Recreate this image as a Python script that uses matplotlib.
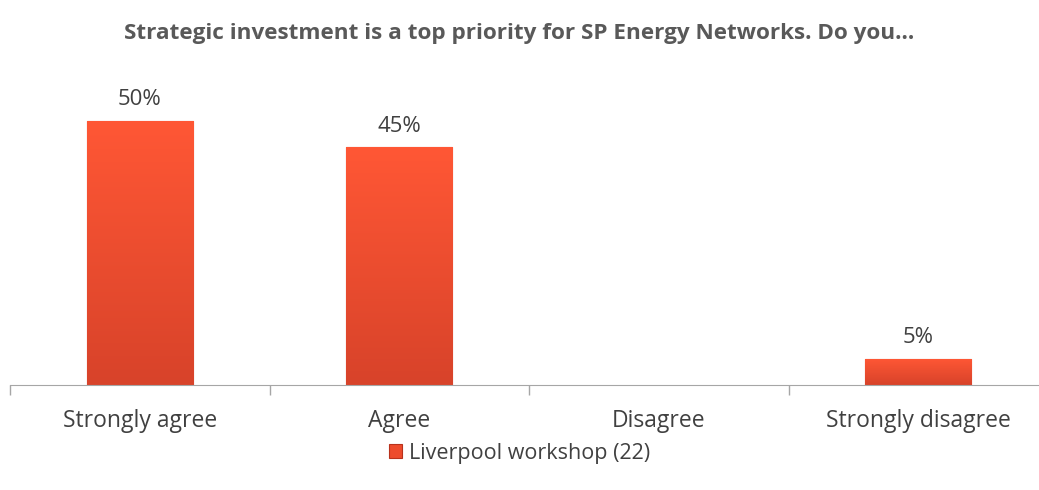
import matplotlib
matplotlib.use('Agg')
import matplotlib.pyplot as plt
import numpy as np

# dados da pesquisa
categorias = ['Strongly agree', 'Agree', 'Disagree', 'Strongly disagree']
valores = [0.50, 0.45, 0.0, 0.05]
serie = 'Liverpool workshop (22)'
titulo = 'Strategic investment is a top priority for SP Energy Networks. Do you...'

plt.rcParams['font.family'] = ['Open Sans', 'DejaVu Sans']

fig = plt.figure(figsize=(10.39, 4.9), dpi=100)
# eixo: começa em x=10px, cada categoria ~259.5px
ax = fig.add_axes([10 / 1039, 105 / 490, 1038 / 1039, 316.8 / 490])

x = np.arange(len(categorias))
cor = '#ED4B2C'
larguras_borda = [0.8 if v > 0 else 0 for v in valores]
barras = ax.bar(x, valores, width=0.41, color=cor, edgecolor='#B8321C', linewidth=larguras_borda, label=serie)

# leve degradê nas barras
cmap = matplotlib.colors.LinearSegmentedColormap.from_list('g', ['#D8432A', '#FF5735'])
for b, v in zip(barras, valores):
    if v <= 0:
        continue
    x0 = b.get_x()
    w = b.get_width()
    grad = np.linspace(0, 1, 100).reshape(-1, 1)
    im = ax.imshow(grad, extent=[x0, x0 + w, 0, v], origin='lower', cmap=cmap, aspect='auto', zorder=2)
    im.set_clip_path(b)

for xi, v in zip(x, valores):
    if v > 0:
        ax.text(xi, v + 0.04, f'{int(round(v * 100))}%', ha='center', va='center', fontsize=16, color='#404040')

ax.set_xlim(-0.5, len(categorias) - 0.5)
ax.set_ylim(0, 0.6)
ax.set_yticks([])
for s in ['top', 'right', 'left']:
    ax.spines[s].set_visible(False)
ax.spines['bottom'].set_color('#A6A6A6')
ax.set_xticks(np.arange(-0.5, len(categorias) - 0.5, 1))
ax.set_xticklabels([])
ax.tick_params(axis='x', length=7, color='#A6A6A6', width=1)
for xi, c in zip(x, categorias):
    ax.text(xi, -0.068, c, ha='center', va='center', fontsize=16.5, color='#404040')

fig.text(0.5, 1 - 33 / 490, titulo, ha='center', va='center', fontsize=16.2, fontweight='bold', color='#595959')

leg = fig.legend(handles=[barras[0]], labels=[serie], loc='center', bbox_to_anchor=(0.5, 1 - 453 / 490),
                 frameon=False, fontsize=15.5, handlelength=0.6, handleheight=0.6, handletextpad=0.3)
for t in leg.get_texts():
    t.set_color('#404040')

fig.savefig('out.png', dpi=100)
